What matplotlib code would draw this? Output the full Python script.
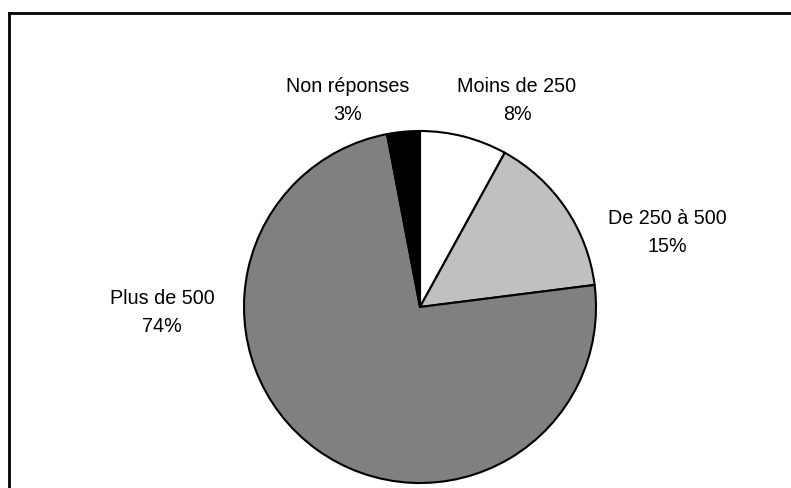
import matplotlib
matplotlib.use('Agg')
import matplotlib.pyplot as plt
from matplotlib.lines import Line2D

# --- data ---
categories = ['Moins de 250', 'De 250 à 500', 'Plus de 500', 'Non réponses']
shares = [8, 15, 74, 3]
colors = ['#FFFFFF', '#C0C0C0', '#808080', '#000000']

# label anchor points in pixel coords (x, y from top)
label_pos = [(517, 101), (667, 233), (162, 313), (348, 101)]

W, H = 791, 489
plt.rcParams['font.family'] = ['Liberation Sans', 'DejaVu Sans']

fig = plt.figure(figsize=(W / 100, H / 100), dpi=100)
fig.patch.set_facecolor('white')
ax = fig.add_axes([0, 0, 1, 1])

ax.pie(shares, colors=colors, startangle=90, counterclock=False,
       center=(420, H - 308), radius=176, frame=True,
       wedgeprops=dict(edgecolor='black', linewidth=1.5))
ax.set_xlim(0, W)
ax.set_ylim(0, H)
ax.set_aspect('equal')
ax.axis('off')

for name, pct, (x, y) in zip(categories, shares, label_pos):
    ax.text(x, H - y, f'{name}\n{pct}%', ha='center', va='center',
            fontsize=14.2, color='black', linespacing=1.6)

# chart frame (top and left edges visible)
fig.add_artist(Line2D([9 / W, 1], [1 - 14 / H, 1 - 14 / H], color='black',
                      linewidth=2, transform=fig.transFigure))
fig.add_artist(Line2D([9 / W, 9 / W], [0, 1 - 14 / H], color='black',
                      linewidth=2, transform=fig.transFigure))

plt.savefig('out.png', dpi=100, facecolor='white')
plt.close()
